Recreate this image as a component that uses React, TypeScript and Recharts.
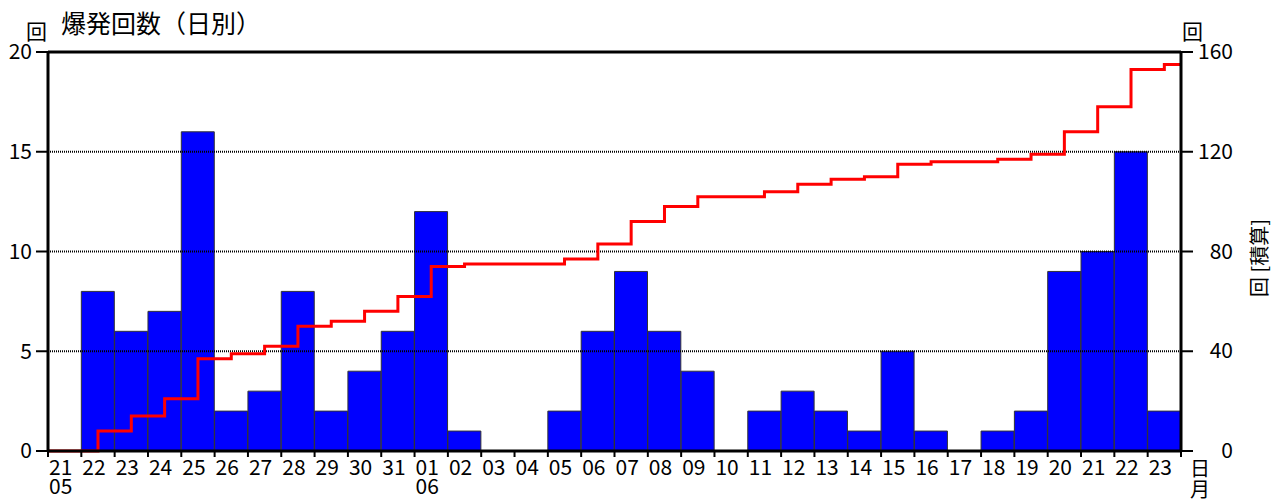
import { ComposedChart, Bar, Line, XAxis, YAxis, ReferenceLine } from 'recharts'

// 日別の爆発回数 (2021/05/21 〜 06/23)
const dates = [
  '05-21', '05-22', '05-23', '05-24', '05-25', '05-26', '05-27', '05-28', '05-29', '05-30', '05-31',
  '06-01', '06-02', '06-03', '06-04', '06-05', '06-06', '06-07', '06-08', '06-09', '06-10', '06-11',
  '06-12', '06-13', '06-14', '06-15', '06-16', '06-17', '06-18', '06-19', '06-20', '06-21', '06-22', '06-23',
]
const daily = [0, 8, 6, 7, 16, 2, 3, 8, 2, 4, 6, 12, 1, 0, 0, 2, 6, 9, 6, 4, 0, 2, 3, 2, 1, 5, 1, 0, 1, 2, 9, 10, 15, 2]
const cumulative = [
  0, 8, 14, 21, 37, 39, 42, 50, 52, 56, 62, 74, 75, 75, 75, 77, 83, 92, 98, 102, 102, 104, 107, 109, 110,
  115, 116, 116, 117, 119, 128, 138, 153, 155,
]
const leftTicks = [0, 5, 10, 15, 20]
const rightTicks = [0, 40, 80, 120, 160]
const gridLines = [5, 10, 15]

const W = 1279
const H = 501
const PLOT_L = 48
const PLOT_R = 1181
const BAND = (PLOT_R - PLOT_L) / dates.length
const FONT = '"Noto Sans CJK JP", "Noto Sans", sans-serif'

const barData = dates.map((d, i) => ({ date: d, count: daily[i] }))
// 階段線は左右端まで伸ばす
const lineData = [
  { x: -0.5, total: cumulative[0] },
  ...cumulative.map((v, i) => ({ x: i, total: v })),
  { x: dates.length - 0.5, total: cumulative[cumulative.length - 1] },
]

function DateTick(props: any) {
  const { x, y, payload, index } = props
  const [mm, dd] = String(payload.value).split('-')
  const left = x - BAND / 2
  const showMonth = index === 0 || dd === '01'
  const last = index === dates.length - 1
  return (
    <g>
      <line x1={left} x2={left} y1={y} y2={y + 6} stroke="#000" strokeWidth={2} />
      {last && <line x1={left + BAND} x2={left + BAND} y1={y} y2={y + 6} stroke="#000" strokeWidth={2} />}
      <text x={left + 1} y={y + 24} fontSize={21} fontFamily={FONT} fill="#000">{dd}</text>
      {showMonth && (
        <text x={left + 1} y={y + 43} fontSize={21} fontFamily={FONT} fill="#000">{mm}</text>
      )}
    </g>
  )
}

// 右軸の目盛りは右寄せ
function RightTick(props: any) {
  const { y, payload } = props
  return (
    <text x={1233} y={y} dy={7} textAnchor="end" fontSize={21} fontFamily={FONT} fill="#000">
      {payload.value}
    </text>
  )
}

export default function App() {
  return (
    <div style={{ position: 'absolute', left: 0, top: 0, width: W, height: H, background: '#fff' }}>
      <ComposedChart
        width={W}
        height={H}
        data={barData}
        margin={{ top: 52, right: 0, left: 0, bottom: 0 }}
        barCategoryGap={0}
        barGap={0}
      >
        <XAxis
          xAxisId="cat"
          dataKey="date"
          height={50}
          interval={0}
          tickLine={false}
          tickSize={0}
          tickMargin={0}
          axisLine={{ stroke: '#000', strokeWidth: 3 }}
          tick={<DateTick />}
        />
        <XAxis xAxisId="num" type="number" dataKey="x" domain={[-0.5, dates.length - 0.5]} allowDataOverflow hide />
        <YAxis
          yAxisId="left"
          width={PLOT_L}
          domain={[0, 20]}
          ticks={leftTicks}
          interval={0}
          tickSize={12}
          tickMargin={4}
          axisLine={{ stroke: '#000', strokeWidth: 3 }}
          tickLine={{ stroke: '#000', strokeWidth: 2 }}
          tick={{ fill: '#000', fontSize: 21, fontFamily: FONT }}
        />
        <YAxis
          yAxisId="right"
          orientation="right"
          width={W - PLOT_R}
          domain={[0, 160]}
          ticks={rightTicks}
          interval={0}
          tickSize={12}
          tickMargin={5}
          axisLine={{ stroke: '#000', strokeWidth: 3 }}
          tickLine={{ stroke: '#000', strokeWidth: 2 }}
          tick={<RightTick />}
        />
        <Bar
          xAxisId="cat"
          yAxisId="left"
          dataKey="count"
          fill="#0000ff"
          stroke="#333"
          strokeWidth={1}
          isAnimationActive={false}
        />
        {gridLines.map(v => (
          <ReferenceLine
            key={v}
            xAxisId="cat"
            yAxisId="left"
            y={v}
            stroke="#000"
            strokeWidth={2}
            strokeDasharray="1 1"
          />
        ))}
        <ReferenceLine xAxisId="cat" yAxisId="left" y={20} stroke="#000" strokeWidth={3} />
        <Line
          xAxisId="num"
          yAxisId="right"
          data={lineData}
          dataKey="total"
          type="stepAfter"
          stroke="#ff0000"
          strokeWidth={3}
          dot={false}
          activeDot={false}
          isAnimationActive={false}
        />
      </ComposedChart>
      <svg
        width={W}
        height={H}
        style={{ position: 'absolute', left: 0, top: 0, pointerEvents: 'none' }}
        fontFamily={FONT}
      >
        <text x={26} y={39} fontSize={21} fill="#000">回</text>
        <text x={61} y={33} fontSize={25} fill="#000">爆発回数（日別）</text>
        <text x={1182} y={39} fontSize={21} fill="#000">回</text>
        <text x={1200} y={476} fontSize={20} fill="#000" textAnchor="middle">日</text>
        <text x={1200} y={497} fontSize={20} fill="#000" textAnchor="middle">月</text>
        <text
          x={1258}
          y={258}
          fontSize={20}
          fill="#000"
          textAnchor="middle"
          dominantBaseline="central"
          transform="rotate(-90 1258 258)"
        >
          回 [積算]
        </text>
      </svg>
    </div>
  )
}
